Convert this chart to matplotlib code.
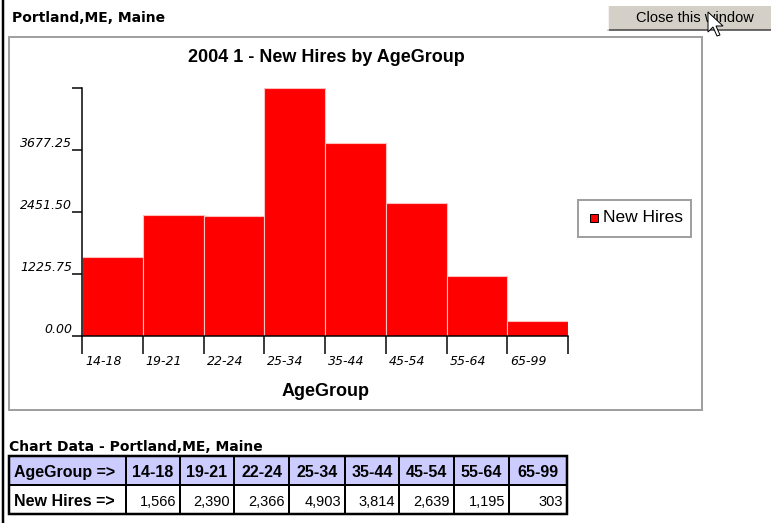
import matplotlib.pyplot as plt
import matplotlib.transforms as mtrans
from matplotlib.patches import Rectangle, Polygon

# data
age_groups = ["14-18", "19-21", "22-24", "25-34", "35-44", "45-54", "55-64", "65-99"]
new_hires = [1566, 2390, 2366, 4903, 3814, 2639, 1195, 303]

place = "Portland,ME, Maine"
chart_title = "2004 1 - New Hires by AgeGroup"

W, H = 771, 523
fig = plt.figure(figsize=(W / 100, H / 100), dpi=100)
fig.patch.set_facecolor("white")

# page layer in pixel coords
page = fig.add_axes([0, 0, 1, 1])
page.set_xlim(0, W)
page.set_ylim(H, 0)
page.axis("off")

sans = "Liberation Sans"
px = 0.72  # one pixel in points

# left window edge
page.plot([3, 3], [0, H], color="black", lw=2.5 * px)

page.text(12, 18, place, fontsize=10, fontweight="bold", family="DejaVu Sans",
          va="center", ha="left")

# close button
page.add_patch(Rectangle((608, 6), 163, 24, facecolor="#d4d0c8", edgecolor="none"))
page.plot([608, 771], [30, 30], color="#404040", lw=1.5 * px)
page.plot([608, 608], [6, 30], color="white", lw=1.5 * px)
page.text(695, 18, "Close this window", fontsize=10.5, family=sans, ha="center", va="center")
# mouse pointer
page.add_patch(Polygon([(708, 12), (708, 32), (713, 27), (717, 36), (720, 35),
                        (716, 26), (723, 26)], closed=True,
                       facecolor="white", edgecolor="black", lw=1 * px, zorder=5))

# chart frame
page.add_patch(Rectangle((9, 37), 693, 373, facecolor="white", edgecolor="#a0a0a0", lw=2 * px))
page.text(326, 57, chart_title, fontsize=13, fontweight="bold", family=sans,
          ha="center", va="center")
page.text(326, 392, "AgeGroup", fontsize=13, fontweight="bold", family=sans,
          ha="center", va="center")

# legend
page.add_patch(Rectangle((578, 200), 113, 37, facecolor="white", edgecolor="#a0a0a0", lw=2 * px))
page.add_patch(Rectangle((590, 214), 8, 8, facecolor="red", edgecolor="black", lw=1 * px))
page.text(603, 218, "New Hires", fontsize=12.5, family=sans, ha="left", va="center")

# bar chart
ax = fig.add_axes([82 / W, 1 - 336 / H, (568 - 82) / W, (336 - 88) / H])
ax.patch.set_alpha(0)
x = list(range(len(age_groups)))
ax.bar(x, new_hires, width=1, align="edge", color="#ff0000", edgecolor="#ffc0c0", lw=0.8)
ymax = max(new_hires)
ax.set_xlim(0, len(age_groups))
ax.set_ylim(0, ymax)
ax.spines[["top", "right"]].set_visible(False)
for s in ["left", "bottom"]:
    ax.spines[s].set_linewidth(1.5 * px)

ax.set_xticks(x + [len(age_groups)])
ax.set_xticklabels(age_groups + [""], fontsize=9, style="italic", family="DejaVu Sans", ha="left")
ax.tick_params(axis="x", length=13, width=1.5 * px, pad=1)
offset = mtrans.ScaledTranslation(3 / 100, 0, fig.dpi_scale_trans)
for lab in ax.get_xticklabels():
    lab.set_transform(lab.get_transform() + offset)

yt = [ymax * i / 4 for i in range(5)]
ax.set_yticks(yt)
ax.set_yticklabels(["%.2f" % v for v in yt[:4]] + [""], fontsize=9, style="italic",
                   family="DejaVu Sans")
ax.tick_params(axis="y", length=7, width=1.5 * px, pad=0)
for lab in ax.get_yticklabels():
    lab.set_va("bottom")

# data table below the chart
page.text(9, 447, "Chart Data - " + place, fontsize=10, fontweight="bold", family="DejaVu Sans",
          ha="left", va="center")
col_edges = [9, 126, 180, 234, 289, 345, 399, 454, 509, 567]
row_edges = [456, 485, 514]
page.add_patch(Rectangle((col_edges[0], row_edges[0]), col_edges[-1] - col_edges[0],
                         row_edges[-1] - row_edges[0], facecolor="none", edgecolor="black",
                         lw=2.5 * px, zorder=4))
for r in range(2):
    for c in range(len(col_edges) - 1):
        x0, x1 = col_edges[c], col_edges[c + 1]
        y0, y1 = row_edges[r], row_edges[r + 1]
        fc = "#ccccff" if r == 0 else "white"
        page.add_patch(Rectangle((x0, y0), x1 - x0, y1 - y0, facecolor=fc,
                                 edgecolor="black", lw=2 * px, zorder=3))
        yb = y1 - 8
        if c == 0:
            txt = "AgeGroup =>" if r == 0 else "New Hires =>"
            page.text(x0 + 5, yb, txt, fontsize=11.5, fontweight="bold", family=sans,
                      ha="left", va="baseline", zorder=5)
        elif r == 0:
            page.text((x0 + x1) / 2, yb, age_groups[c - 1], fontsize=11.5, fontweight="bold",
                      family=sans, ha="center", va="baseline", zorder=5)
        else:
            page.text(x1 - 4, yb, "{:,}".format(new_hires[c - 1]), fontsize=10.5,
                      family=sans, ha="right", va="baseline", zorder=5)

fig.savefig("out.png", dpi=100)
